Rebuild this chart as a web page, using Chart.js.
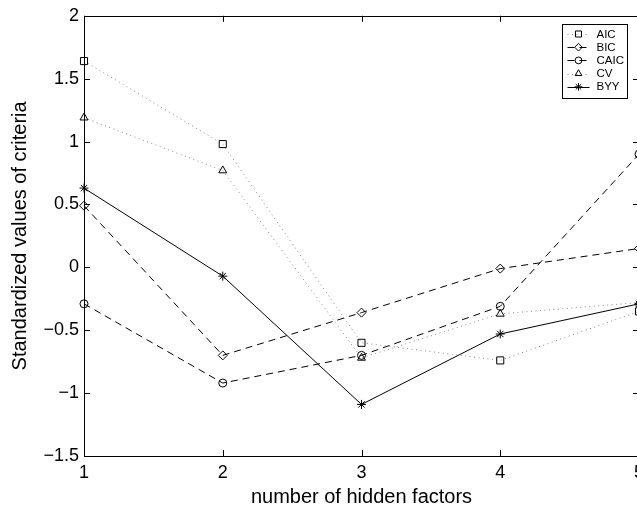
<!DOCTYPE html>
<html>
<head>
<meta charset="utf-8">
<script src="https://cdn.jsdelivr.net/npm/chart.js@4.4.1/dist/chart.umd.min.js"></script>
<style>
  html, body { margin: 0; padding: 0; background: #fff; overflow: hidden; }
</style>
</head>
<body>
<canvas id="criterios" width="660" height="513"></canvas>
<script>
// dados
const fatores = [1, 2, 3, 4, 5];
const aic  = [1.64, 0.98, -0.60, -0.74, -0.35];
const bic  = [0.49, -0.70, -0.36, -0.01, 0.15];
const caic = [-0.29, -0.92, -0.70, -0.31, 0.90];
const cv   = [1.19, 0.77, -0.72, -0.37, -0.28];
const byy  = [0.63, -0.07, -1.09, -0.53, -0.29];
const xTicks = [1, 2, 3, 4, 5];
const yTicks = [-1.5, -1, -0.5, 0, 0.5, 1, 1.5, 2];

const fonte = 'Liberation Sans, Arial, Helvetica, sans-serif';
const pontilhado = '#8a8a8a';

function serie(valores) {
  return fatores.map((f, i) => ({ x: f, y: valores[i] }));
}

function dataset(label, valores, estilo, raio, cor, tracejado) {
  return {
    label: label,
    data: serie(valores),
    borderColor: cor,
    borderWidth: 1,
    borderDash: tracejado,
    pointStyle: estilo,
    pointRadius: raio,
    pointHoverRadius: raio,
    pointBorderColor: '#000',
    pointBackgroundColor: 'rgba(0,0,0,0)',
    pointBorderWidth: 1,
    tension: 0,
    clip: false
  };
}

const datasets = [
  dataset('AIC', aic, 'rect', 5, pontilhado, [1, 3.5]),
  dataset('BIC', bic, 'rectRot', 4.5, '#000', [7, 5]),
  dataset('CAIC', caic, 'circle', 4, '#000', [7, 5]),
  dataset('CV', cv, 'triangle', 4.6, pontilhado, [1, 3.5]),
  dataset('BYY', byy, 'star', 4.5, '#000', [])
];

function menos(v) {
  return v < 0 ? '\u2212' + Math.abs(v) : String(v);
}

// caixa, marcas internas e legenda no estilo matlab
const eixos = {
  id: 'eixos',
  afterDraw(chart) {
    const { ctx, chartArea: a, scales: { x, y } } = chart;
    ctx.save();
    ctx.strokeStyle = '#000';
    ctx.lineWidth = 1;
    ctx.setLineDash([]);
    ctx.beginPath();
    ctx.rect(Math.round(a.left) + 0.5, Math.round(a.top) + 0.5,
             Math.round(a.right - a.left), Math.round(a.bottom - a.top));
    yTicks.forEach(v => {
      const p = Math.round(y.getPixelForValue(v)) + 0.5;
      ctx.moveTo(a.left, p); ctx.lineTo(a.left + 6, p);
      ctx.moveTo(a.right, p); ctx.lineTo(a.right - 6, p);
    });
    xTicks.forEach(v => {
      const p = Math.round(x.getPixelForValue(v)) + 0.5;
      ctx.moveTo(p, a.bottom); ctx.lineTo(p, a.bottom - 6);
      ctx.moveTo(p, a.top); ctx.lineTo(p, a.top + 6);
    });
    ctx.stroke();

    // legenda
    const bx = Math.round(a.right) - 76.5, by = Math.round(a.top) + 8.5;
    ctx.fillStyle = '#fff';
    ctx.fillRect(bx, by, 65, 74);
    ctx.strokeRect(bx, by, 65, 74);
    ctx.font = '11.5px ' + fonte;
    ctx.textBaseline = 'middle';
    ctx.textAlign = 'left';
    chart.data.datasets.forEach((d, i) => {
      const ly = by + 9.5 + i * 13.2;
      ctx.strokeStyle = d.borderColor;
      ctx.setLineDash(d.borderDash);
      ctx.beginPath();
      ctx.moveTo(bx + 5, Math.round(ly) + 0.5);
      ctx.lineTo(bx + 27, Math.round(ly) + 0.5);
      ctx.stroke();
      ctx.setLineDash([]);
      ctx.strokeStyle = '#000';
      ctx.fillStyle = 'rgba(0,0,0,0)';
      Chart.helpers.drawPoint(ctx, {
        pointStyle: d.pointStyle,
        rotation: 0,
        radius: d.pointRadius * 0.85,
        borderWidth: 1
      }, bx + 16, ly);
      ctx.fillStyle = '#000';
      ctx.fillText(d.label, bx + 34, ly + 0.5);
    });
    ctx.restore();
  }
};

const options = {
  responsive: false,
  animation: false,
  events: [],
  layout: { padding: { left: 0, top: 14, right: 21, bottom: 0 } },
  scales: {
    x: {
      type: 'linear',
      min: 1,
      max: 5,
      afterFit: s => { s.height = 57; },
      afterBuildTicks: s => { s.ticks = xTicks.map(v => ({ value: v })); },
      grid: { display: false, drawTicks: false },
      border: { display: false },
      ticks: { color: '#000', padding: 6, font: { family: fonte, size: 18 }, maxRotation: 0 },
      title: {
        display: true,
        text: 'number of hidden factors',
        color: '#000',
        font: { family: fonte, size: 20 },
        padding: { top: 0, bottom: 4 }
      }
    },
    y: {
      type: 'linear',
      min: -1.5,
      max: 2,
      afterFit: s => { s.width = 84; },
      afterBuildTicks: s => { s.ticks = yTicks.map(v => ({ value: v })); },
      grid: { display: false, drawTicks: false },
      border: { display: false },
      ticks: {
        color: '#000',
        padding: 5,
        font: { family: fonte, size: 18 },
        callback: v => menos(v)
      },
      title: {
        display: true,
        text: 'Standardized values of criteria',
        color: '#000',
        font: { family: fonte, size: 20 },
        padding: { top: 8, bottom: 0 }
      }
    }
  },
  plugins: {
    legend: { display: false },
    tooltip: { enabled: false }
  }
};

new Chart(document.getElementById('criterios'), {
  type: 'line',
  data: { datasets: datasets },
  options: options,
  plugins: [eixos]
});
</script>
</body>
</html>
